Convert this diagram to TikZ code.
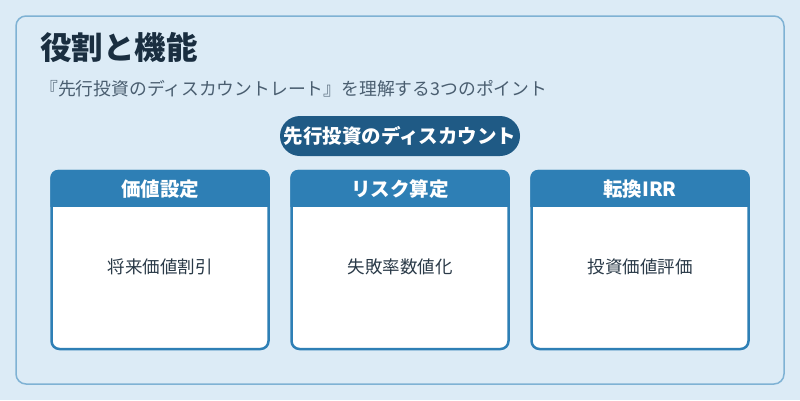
\documentclass[tikz,border=0pt]{standalone}
\usepackage{fontspec}
\newfontfamily\jp{Noto Sans CJK JP}
\usetikzlibrary{positioning}
\definecolor{pagebg}{HTML}{DCEBF6}
\definecolor{panelline}{HTML}{7FB2D4}
\definecolor{cardline}{HTML}{2E7FB5}
\definecolor{pillfill}{HTML}{1F5A85}
\definecolor{titletext}{HTML}{1A2E40}
\definecolor{subtext}{HTML}{4A5E70}
\definecolor{bodytext}{HTML}{2A3A48}

\begin{document}
\begin{tikzpicture}[x=1pt, y=-1pt,
    card/.style={draw=cardline, line width=2.5pt, fill=white, rounded corners=8pt,
      minimum width=217pt, minimum height=178pt, inner sep=0pt},
    headtext/.style={text=white, font=\jp\bfseries\fontsize{19.5}{22}\selectfont},
    bodylabel/.style={text=bodytext, font=\jp\fontsize{17.5}{20}\selectfont}]
  \useasboundingbox[fill=pagebg] (0,0) rectangle (800,400);
  \draw[panelline, line width=1.5pt, fill=pagebg, rounded corners=10pt] (16,16) rectangle (784,384);
  \node[anchor=west, text=titletext, font=\jp\bfseries\fontsize{31.5}{36}\selectfont, inner sep=0pt] (title) at (40,47) {役割と機能};
  \node[anchor=west, text=subtext, font=\jp\fontsize{17.8}{20}\selectfont, inner sep=0pt] (subtitle) at (40,89) {『先行投資のディスカウントレート』を理解する3つのポイント};
  \node[fill=pillfill, rounded corners=20pt, minimum width=240pt, minimum height=40pt, inner sep=0pt,
    text=white, font=\jp\bfseries\fontsize{19.5}{22}\selectfont] (pill) at (400,136) {先行投資のディスカウント};
  % three cards
  \foreach \n/\cx/\head/\body in {1/160/価値設定/将来価値割引, 2/400/リスク算定/失敗率数値化, 3/640/転換IRR/投資価値評価} {
    \node[card] (card\n) at (\cx,260) {};
    \fill[cardline] (card\n.north west) ++(0,37) [rounded corners=8pt] -- (card\n.north west) -- (card\n.north east) [sharp corners] -- ++(0,37) -- cycle;
    \node[headtext] (head\n) at (\cx,189) {\head};
    \node[bodylabel] (body\n) at (\cx,267) {\body};
  }
\end{tikzpicture}
\end{document}
